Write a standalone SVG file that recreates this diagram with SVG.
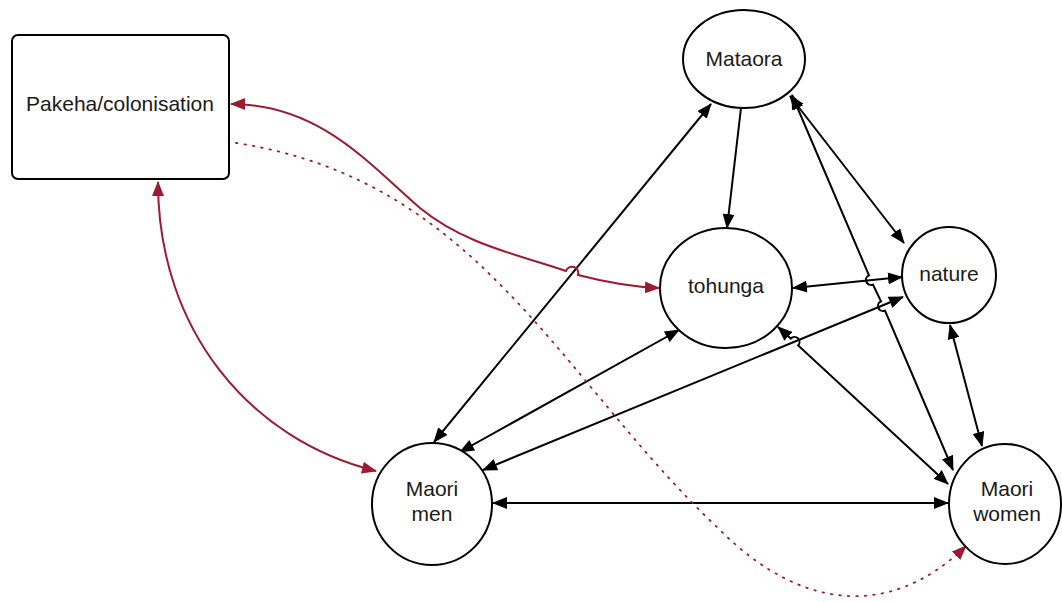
<svg xmlns="http://www.w3.org/2000/svg" width="1062" height="602" viewBox="0 0 1062 602">
<style>
.node{fill:#fff;stroke:#000;stroke-width:2}
.lbl{font-family:"Liberation Sans",Arial,sans-serif;font-size:21px;fill:#1a1a1a;text-anchor:middle}
.e{fill:none;stroke:#000;stroke-width:2}
.r{fill:none;stroke:#9b1c31;stroke-width:2}
.d{fill:none;stroke:#9b1c31;stroke-width:1.8;stroke-dasharray:1.5 7;stroke-linecap:round}
</style>
<defs>
<marker id="ab" markerUnits="userSpaceOnUse" markerWidth="15" markerHeight="12" viewBox="0 0 15 12" refX="14" refY="6" orient="auto-start-reverse"><path d="M0,0 L15,6 L0,12 z" fill="#000"/></marker>
<marker id="ar" markerUnits="userSpaceOnUse" markerWidth="15" markerHeight="12" viewBox="0 0 15 12" refX="14" refY="6" orient="auto-start-reverse"><path d="M0,0 L15,6 L0,12 z" fill="#9b1c31"/></marker>
</defs>
<rect width="1062" height="602" fill="#fff"/>
<g id="connectors">
<path class="e" d="M711 104 L434 442" marker-start="url(#ab)" marker-end="url(#ab)"/>
<path class="e" d="M741 108 L727 228" marker-end="url(#ab)"/>
<path class="e" d="M790 96 L904 243" marker-start="url(#ab)" marker-end="url(#ab)"/>
<path class="e" d="M792 95 L869 275.4 A5 5 0 0 0 873 284.6 L881 301.4 A5 5 0 0 0 885 310.6 L953 470" marker-start="url(#ab)" marker-end="url(#ab)"/>
<path class="e" d="M793 288 L902 277" marker-start="url(#ab)" marker-end="url(#ab)"/>
<path class="e" d="M679 330 L460 452" marker-start="url(#ab)" marker-end="url(#ab)"/>
<path class="e" d="M903 297 L483 470" marker-start="url(#ab)" marker-end="url(#ab)"/>
<path class="e" d="M778 327 L790.8 338.6 A5 5 0 0 1 798.2 345.4 L948 484" marker-start="url(#ab)" marker-end="url(#ab)"/>
<path class="e" d="M950 325 L982 446" marker-start="url(#ab)" marker-end="url(#ab)"/>
<path class="e" d="M493 503 L948 503" marker-start="url(#ab)" marker-end="url(#ab)"/>
<path class="r" d="M231 104 C320 104 370 165 420 208 C465 245 520 255 566 271 A6 6 0 0 1 578 275 C605 282 635 287 659 288" marker-start="url(#ar)" marker-end="url(#ar)"/>
<path class="r" d="M158 182 C158 330 250 440 376 471" marker-start="url(#ar)" marker-end="url(#ar)"/>
<path class="d" d="M236 143 C480 180 560 380 720 530 C800 610 890 620 966 546" marker-end="url(#ar)"/>
</g>
<g id="pakeha">
<rect class="node" x="12" y="35" width="217" height="144" rx="6"/>
<text class="lbl" x="120" y="111">Pakeha/colonisation</text>
</g>
<g id="mataora">
<ellipse class="node" cx="744" cy="59" rx="61" ry="49"/>
<text class="lbl" x="744" y="66">Mataora</text>
</g>
<g id="tohunga">
<ellipse class="node" cx="726" cy="288" rx="66" ry="60"/>
<text class="lbl" x="726" y="293">tohunga</text>
</g>
<g id="nature">
<ellipse class="node" cx="949" cy="275" rx="47" ry="48"/>
<text class="lbl" x="949" y="281">nature</text>
</g>
<g id="maori-men">
<ellipse class="node" cx="432" cy="504" rx="60" ry="61"/>
<text class="lbl" x="432" y="496">Maori</text>
<text class="lbl" x="432" y="521">men</text>
</g>
<g id="maori-women">
<ellipse class="node" cx="1005" cy="504" rx="56" ry="60"/>
<text class="lbl" x="1007" y="496">Maori</text>
<text class="lbl" x="1007" y="521">women</text>
</g>
</svg>
